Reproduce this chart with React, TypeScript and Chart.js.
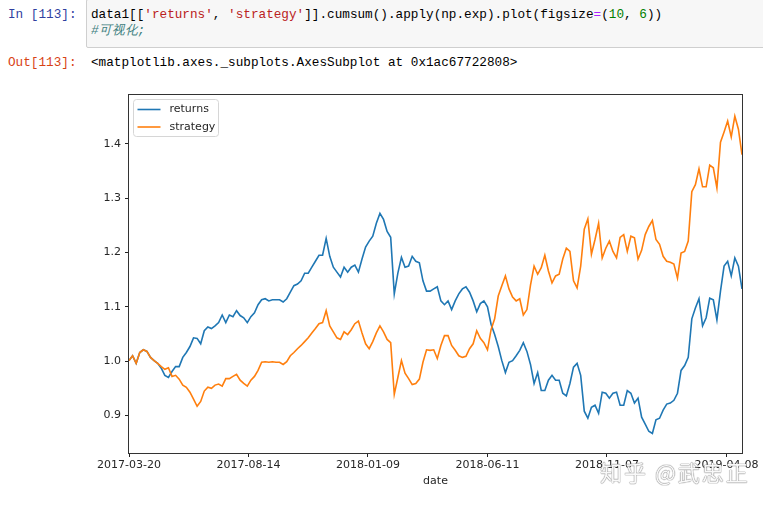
import React, { useEffect, useRef } from "react";
import { Chart, registerables } from "chart.js";

Chart.register(...registerables);

// trading-day index of each sample (every 3rd row)
const ROWS: number[] = Array.from({ length: 172 }, (_, i) => i * 3);
const X_MAX = 513;

const X_TICK_POS = [0, 100, 200, 300, 400, 500];
const X_TICK_LABELS = ["2017-03-20", "2017-08-14", "2018-01-09", "2018-06-11", "2018-11-07", "2019-04-08"];
const Y_TICKS = [0.9, 1.0, 1.1, 1.2, 1.3, 1.4];
const Y_MIN = 0.831;
const Y_MAX = 1.49;

const RETURNS = [
  1.001, 1.010, 0.996, 1.016, 1.021, 1.018, 1.007, 1.001, 0.996, 0.987,
  0.974, 0.970, 0.981, 0.990, 0.990, 1.007, 1.016, 1.027, 1.043, 1.042,
  1.032, 1.056, 1.063, 1.060, 1.065, 1.071, 1.085, 1.071, 1.085, 1.082,
  1.093, 1.084, 1.080, 1.071, 1.082, 1.089, 1.104, 1.113, 1.115, 1.111,
  1.113, 1.113, 1.113, 1.109, 1.115, 1.127, 1.139, 1.142, 1.148, 1.162,
  1.162, 1.173, 1.184, 1.195, 1.195, 1.226, 1.193, 1.173, 1.164, 1.155,
  1.173, 1.164, 1.173, 1.177, 1.164, 1.188, 1.210, 1.221, 1.230, 1.254,
  1.272, 1.261, 1.239, 1.228, 1.124, 1.162, 1.191, 1.173, 1.175, 1.193,
  1.184, 1.181, 1.148, 1.129, 1.129, 1.133, 1.137, 1.111, 1.104, 1.111,
  1.095, 1.111, 1.124, 1.133, 1.137, 1.127, 1.111, 1.091, 1.106, 1.111,
  1.100, 1.068, 1.049, 1.027, 1.001, 0.979, 0.998, 1.001, 1.010, 1.020,
  1.034, 1.018, 0.994, 0.959, 0.979, 0.946, 0.946, 0.965, 0.974, 0.965,
  0.965, 0.941, 0.936, 0.959, 0.989, 0.996, 0.974, 0.908, 0.895, 0.915,
  0.919, 0.904, 0.943, 0.941, 0.932, 0.941, 0.943, 0.919, 0.919, 0.946,
  0.941, 0.923, 0.932, 0.897, 0.884, 0.871, 0.867, 0.892, 0.895, 0.910,
  0.921, 0.923, 0.928, 0.941, 0.983, 0.992, 1.007, 1.078, 1.098, 1.115,
  1.065, 1.080, 1.116, 1.113, 1.076, 1.129, 1.175, 1.184, 1.157, 1.190,
  1.175, 1.133,
];

const STRATEGY = [
  1.001, 1.010, 0.996, 1.016, 1.021, 1.018, 1.007, 1.001, 0.996, 0.990,
  0.985, 0.988, 0.972, 0.974, 0.967, 0.956, 0.952, 0.943, 0.930, 0.917,
  0.926, 0.945, 0.952, 0.950, 0.956, 0.958, 0.954, 0.968, 0.968, 0.972,
  0.976, 0.965, 0.959, 0.954, 0.965, 0.972, 0.983, 0.998, 0.999, 0.998,
  0.999, 0.998, 0.998, 0.994, 0.999, 1.010, 1.016, 1.023, 1.029, 1.036,
  1.043, 1.052, 1.060, 1.069, 1.071, 1.093, 1.065, 1.054, 1.043, 1.040,
  1.054, 1.049, 1.058, 1.069, 1.074, 1.052, 1.032, 1.023, 1.036, 1.052,
  1.065, 1.054, 1.040, 1.034, 0.939, 0.970, 1.001, 0.978, 0.968, 0.957,
  0.959, 0.967, 0.998, 1.021, 1.020, 1.021, 1.005, 1.029, 1.047, 1.047,
  1.029, 1.020, 1.010, 1.007, 1.009, 1.023, 1.032, 1.056, 1.042, 1.034,
  1.021, 1.058, 1.078, 1.120, 1.139, 1.157, 1.133, 1.118, 1.111, 1.115,
  1.085, 1.095, 1.140, 1.175, 1.160, 1.172, 1.195, 1.166, 1.144, 1.157,
  1.160, 1.188, 1.208, 1.202, 1.148, 1.135, 1.175, 1.243, 1.262, 1.197,
  1.224, 1.254, 1.190, 1.208, 1.221, 1.202, 1.190, 1.228, 1.233, 1.202,
  1.230, 1.227, 1.188, 1.204, 1.233, 1.248, 1.259, 1.224, 1.215, 1.193,
  1.184, 1.182, 1.179, 1.153, 1.199, 1.202, 1.221, 1.312, 1.325, 1.354,
  1.321, 1.321, 1.361, 1.356, 1.319, 1.403, 1.422, 1.442, 1.413, 1.451,
  1.427, 1.380,
];

const SERIES_NAMES = ["returns", "strategy"];
const SERIES_COLORS = ["#1f77b4", "#ff7f0e"];

const TICK_FONT = { family: "'DejaVu Sans', sans-serif", size: 11 };
const TEXT_COLOR = "#262626";

const framePlugin = {
  id: "frame",
  afterDraw(chart: any) {
    const { ctx, chartArea } = chart;
    ctx.save();
    ctx.strokeStyle = "#333";
    ctx.lineWidth = 1;
    ctx.strokeRect(
      Math.round(chartArea.left) - 0.5,
      Math.round(chartArea.top) - 0.5,
      Math.round(chartArea.right - chartArea.left) + 1,
      Math.round(chartArea.bottom - chartArea.top) + 1
    );
    ctx.restore();
  },
};

const legendPlugin = {
  id: "mplLegend",
  afterDraw(chart: any) {
    const { ctx, chartArea } = chart;
    const x0 = chartArea.left + 4.5;
    const y0 = chartArea.top + 4.5;
    const w = 85;
    const h = 37;
    ctx.save();
    ctx.beginPath();
    const r = 3;
    ctx.moveTo(x0 + r, y0);
    ctx.lineTo(x0 + w - r, y0);
    ctx.quadraticCurveTo(x0 + w, y0, x0 + w, y0 + r);
    ctx.lineTo(x0 + w, y0 + h - r);
    ctx.quadraticCurveTo(x0 + w, y0 + h, x0 + w - r, y0 + h);
    ctx.lineTo(x0 + r, y0 + h);
    ctx.quadraticCurveTo(x0, y0 + h, x0, y0 + h - r);
    ctx.lineTo(x0, y0 + r);
    ctx.quadraticCurveTo(x0, y0, x0 + r, y0);
    ctx.closePath();
    ctx.fillStyle = "rgba(255,255,255,0.8)";
    ctx.fill();
    ctx.strokeStyle = "#d6d6d6";
    ctx.lineWidth = 1;
    ctx.stroke();
    chart.data.datasets.forEach((ds: any, i: number) => {
      const y = y0 + 10 + i * 17.5;
      ctx.beginPath();
      ctx.strokeStyle = ds.borderColor;
      ctx.lineWidth = 1.6;
      ctx.moveTo(x0 + 4, y);
      ctx.lineTo(x0 + 27, y);
      ctx.stroke();
      ctx.fillStyle = TEXT_COLOR;
      ctx.font = "11px 'DejaVu Sans', sans-serif";
      ctx.textBaseline = "middle";
      ctx.textAlign = "left";
      ctx.fillText(ds.label, x0 + 36, y);
    });
    ctx.restore();
  },
};

function ChartBox() {
  const ref = useRef<HTMLCanvasElement | null>(null);
  useEffect(() => {
    if (!ref.current) return;
    const seriesData = [RETURNS, STRATEGY];
    const chart = new Chart(ref.current, {
      type: "line",
      data: {
        datasets: SERIES_NAMES.map((name, k) => ({
          label: name,
          data: ROWS.map((r, i) => ({ x: r, y: seriesData[k][i] })),
          borderColor: SERIES_COLORS[k],
          backgroundColor: SERIES_COLORS[k],
          borderWidth: 1.6,
          pointRadius: 0,
          tension: 0,
          fill: false,
          order: k === 0 ? 1 : 0,
        })),
      },
      options: {
        animation: false,
        responsive: false,
        devicePixelRatio: 1,
        layout: { padding: { left: 0, right: 21, top: 15, bottom: 0 } },
        plugins: { legend: { display: false }, tooltip: { enabled: false }, title: { display: false } },
        scales: {
          x: {
            type: "linear",
            min: 0,
            max: X_MAX,
            afterBuildTicks: (s: any) => {
              s.ticks = X_TICK_POS.map((v) => ({ value: v }));
            },
            afterFit: (s: any) => {
              s.height = 55;
            },
            ticks: {
              autoSkip: false,
              maxRotation: 0,
              minRotation: 0,
              padding: 2,
              color: TEXT_COLOR,
              font: TICK_FONT,
              callback: (v: any) => {
                const idx = X_TICK_POS.indexOf(Number(v));
                return idx >= 0 ? X_TICK_LABELS[idx] : "";
              },
            },
            grid: { display: true, drawOnChartArea: false, drawTicks: true, tickLength: 4, color: "#222", lineWidth: 1 },
            border: { display: false },
            title: { display: true, text: "date", color: TEXT_COLOR, font: TICK_FONT, padding: { top: 0, bottom: 20 } },
          },
          y: {
            type: "linear",
            min: Y_MIN,
            max: Y_MAX,
            afterBuildTicks: (s: any) => {
              s.ticks = Y_TICKS.map((v) => ({ value: v }));
            },
            afterFit: (s: any) => {
              s.width = 129;
            },
            ticks: {
              padding: 4,
              color: TEXT_COLOR,
              font: TICK_FONT,
              callback: (v: any) => Number(v).toFixed(1),
            },
            grid: { display: true, drawOnChartArea: false, drawTicks: true, tickLength: 4, color: "#222", lineWidth: 1 },
            border: { display: false },
          },
        },
      },
      plugins: [framePlugin, legendPlugin],
    } as any);
    return () => chart.destroy();
  }, []);
  return <canvas ref={ref} width={763} height={428} style={{ position: "absolute", left: 0, top: 80, width: 763, height: 428 }} />;
}

const MONO = "'Liberation Mono', 'DejaVu Sans Mono', monospace";

export default function App() {
  const lineStyle: React.CSSProperties = {
    position: "absolute",
    fontFamily: MONO,
    fontSize: 12.7,
    lineHeight: "16px",
    whiteSpace: "pre",
  };
  return (
    <div style={{ position: "fixed", left: 0, top: 0, width: 763, height: 508, overflow: "hidden", background: "#fff" }}>
      <div style={{ ...lineStyle, left: 8, top: 7, color: "#303F9F" }}>In [113]:</div>
      <div
        style={{
          position: "absolute",
          left: 86,
          top: -1,
          width: 700,
          height: 47,
          background: "#f7f7f7",
          border: "1px solid #cfcfcf",
          borderRadius: 2,
        }}
      />
      <div style={{ ...lineStyle, left: 91, top: 7, color: "#000" }}>
        data1[[<span style={{ color: "#BA2121" }}>'returns'</span>, <span style={{ color: "#BA2121" }}>'strategy'</span>]].cumsum().apply(np.exp).plot(figsize<span style={{ color: "#AA22FF" }}>=</span>(<span style={{ color: "#008000" }}>10</span>, <span style={{ color: "#008000" }}>6</span>))
      </div>
      <div style={{ ...lineStyle, left: 91, top: 23, color: "#408080", fontStyle: "italic" }}>#可视化;</div>
      <div style={{ ...lineStyle, left: 8, top: 55, color: "#D84315" }}>Out[113]:</div>
      <div style={{ ...lineStyle, left: 91, top: 55, color: "#000" }}>&lt;matplotlib.axes._subplots.AxesSubplot at 0x1ac67722808&gt;</div>
      <ChartBox />
      <div
        style={{
          position: "absolute",
          left: 600,
          top: 456,
          fontFamily: "'Noto Sans CJK SC', sans-serif",
          fontSize: 22,
          lineHeight: "30px",
          color: "rgba(255,255,255,0.95)",
          whiteSpace: "pre",
          letterSpacing: 2,
          textShadow: "0 0 1px #8a8a8a, 0 0 1px #8a8a8a, 0 0 1px #8a8a8a",
          zIndex: 2,
        }}
      >
        知乎 @武忠正
      </div>
    </div>
  );
}
